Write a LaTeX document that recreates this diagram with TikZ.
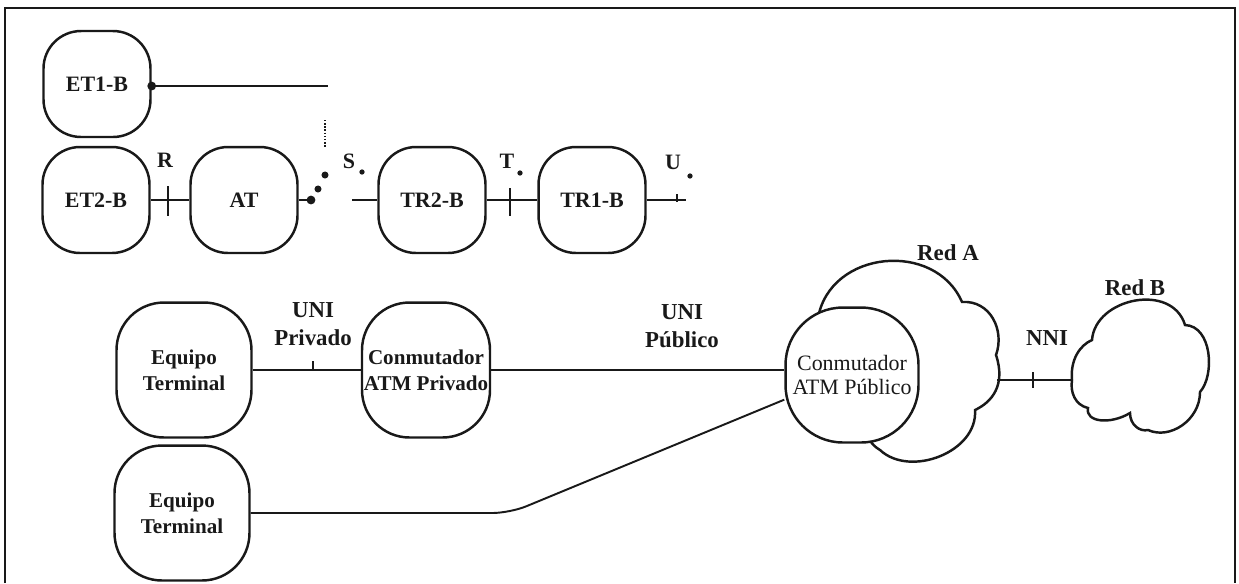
\documentclass[tikz,border=0pt]{standalone}
\usepackage{fontspec}
\setmainfont{Liberation Serif}
\usepackage{tikz}
\usetikzlibrary{positioning}
\definecolor{inkblack}{RGB}{25,25,25}

\begin{document}
\begin{tikzpicture}[x=0.02cm,y=-0.02cm,line width=1.1pt,color=inkblack,
    unit/.style={draw,line width=1.4pt,rounded corners=0.75cm,minimum width=2.14cm,
      minimum height=2.12cm,font=\fontsize{12.5}{14}\selectfont\bfseries},
    equipo/.style={draw,line width=1.4pt,rounded corners=0.95cm,minimum width=2.7cm,
      minimum height=2.7cm,align=center,font=\fontsize{12}{15}\selectfont\bfseries},
    lbl/.style={font=\fontsize{12.5}{16}\selectfont\bfseries,align=center,inner sep=0pt},
    refdot/.style={fill,circle,inner sep=0pt,minimum size=3pt}]
  \useasboundingbox (0,0) rectangle (1239,583);
  \draw[line width=1.6pt] (5,583) -- (5,8) -- (1235,8) -- (1235,583);
  % upper row
  \node[unit] (et1) at (97,84)  {ET1-B};
  \node[unit] (et2) at (96,200) {ET2-B};
  \node[unit] (at)  at (244,200) {AT};
  \node[unit] (tr2) at (432,200) {TR2-B};
  \node[unit] (tr1) at (592,200) {TR1-B};
  \coordinate (s1) at (328,86);
  \coordinate (sw) at (311,200);
  \coordinate (se) at (352,200);
  \coordinate (u)  at (686,200);
  \draw (et1.east |- s1) -- (s1);
  \node[refdot,minimum size=5pt] (et1dot) at (et1.east |- s1) {};
  \draw[densely dotted,line width=0.8pt] (325,120) -- (325,147);
  \draw (et2) -- (at);
  \draw (at.east) -- (sw);
  \node[refdot,minimum size=5pt] (d1) at (sw) {};
  \node[refdot,minimum size=4pt] (d2) at (318,189) {};
  \node[refdot,minimum size=4pt] (d3) at (325,175) {};
  \draw (se) -- (tr2);
  \draw (tr2) -- (tr1);
  \draw (tr1.east) -- (u);
  \draw (168,186) -- (168,216);
  \draw (510,188) -- (510,216);
  \draw[line width=0.7pt] (677,194) -- (677,202);
  \node[lbl] (rlab) at (165,160) {R};
  \node[lbl] (slab) at (349,161) {S};
  \node[lbl] (tlab) at (507,161) {T};
  \node[lbl] (ulab) at (673,162) {U};
  \node[refdot] at (362,172) {};
  \node[refdot] at (520,173) {};
  \node[refdot] at (690,176) {};
  % clouds
  \draw[line width=1.4pt] (818,318) .. controls (830,250) and (935,240) .. (962,302)
    .. controls (990,300) and (1005,330) .. (996,355)
    .. controls (1006,385) and (992,402) .. (975,410)
    .. controls (978,452) and (910,478) .. (880,450)
    .. controls (875,447) and (872,444) .. (868,438);
  \draw[line width=1.4pt] (1072,380) .. controls (1070,360) and (1080,345) .. (1092,340)
    .. controls (1095,298) and (1172,282) .. (1185,325)
    .. controls (1212,326) and (1215,375) .. (1200,392)
    .. controls (1200,420) and (1170,440) .. (1148,430)
    .. controls (1140,432) and (1130,425) .. (1130,413)
    .. controls (1110,425) and (1085,422) .. (1088,408)
    .. controls (1075,405) and (1070,392) .. (1072,380) -- cycle;
  \node[lbl,font=\fontsize{13}{16}\selectfont\bfseries] (reda) at (948,253) {Red A};
  \node[lbl,font=\fontsize{13}{16}\selectfont\bfseries] (redb) at (1135,288) {Red B};
  % lower part
  \node[equipo] (eq1)   at (184,370) {Equipo\\Terminal};
  \node[equipo,minimum width=2.56cm,inner sep=1pt] (cpriv) at (426,370) {Conmutador\\ATM Privado};
  \node[equipo] (eq2)   at (182,513) {Equipo\\Terminal};
  \node[equipo,fill=white,rounded corners=1.15cm,minimum width=2.66cm,
    font=\fontsize{12.5}{14}\selectfont] (cpub) at (852,375) {Conmutador\\ATM Público};
  \coordinate (bend) at (510,513);
  \coordinate (redaE) at (997,380);
  \coordinate (redbW) at (1072,380);
  \draw (eq1) -- (cpriv);
  \draw (cpriv.east) -- (cpriv.east -| cpub.west);
  \draw[rounded corners=10pt] (eq2.east) -- (bend) -- (cpub.200);
  \draw (redaE) -- (redbW);
  \draw[line width=0.7pt] (313,361) -- (313,369);
  \draw[line width=0.7pt] (1033,372) -- (1033,388);
  \node[lbl,font=\fontsize{13}{16}\selectfont\bfseries] (unipriv) at (313,324) {UNI\\Privado};
  \node[lbl,font=\fontsize{13}{16}\selectfont\bfseries] (unipub) at (682,326) {UNI\\Público};
  \node[lbl,font=\fontsize{13}{16}\selectfont\bfseries] (nni) at (1047,338) {NNI};
\end{tikzpicture}
\end{document}
